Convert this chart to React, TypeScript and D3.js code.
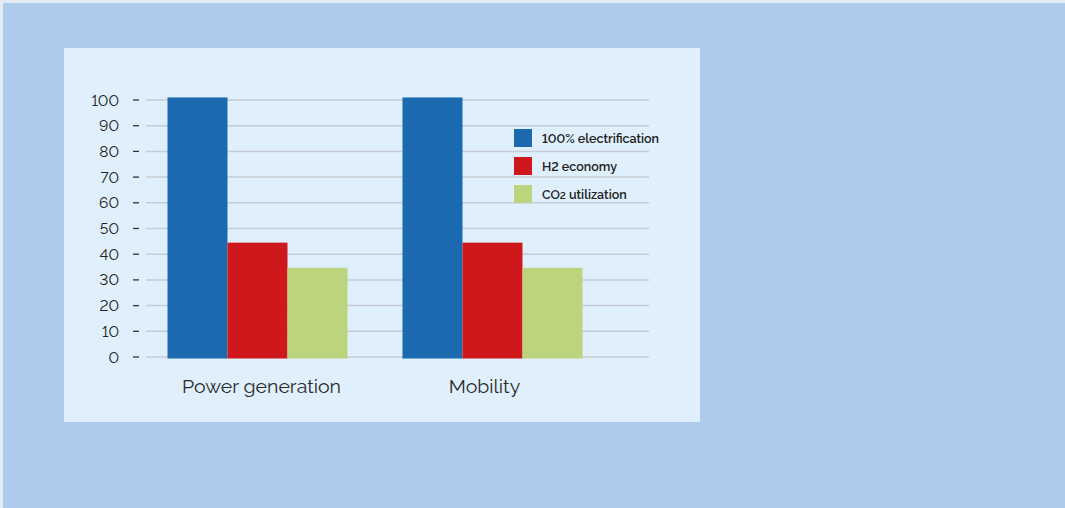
import React from "react";
import * as d3 from "d3";

const categories = ["Power generation", "Mobility"];
const seriesNames = ["100% electrification", "H2 economy", "CO2 utilization"];
const electrification = [101, 101];
const h2Economy = [44.5, 44.5];
const co2Utilization = [34.7, 34.7];
const yTicks = [0, 10, 20, 30, 40, 50, 60, 70, 80, 90, 100];

const colors = ["#1b6aaf", "#cf181c", "#bcd47c"];

const W = 1065;
const H = 508;

export default function App() {
  const series = [electrification, h2Economy, co2Utilization];

  const y = d3.scaleLinear().domain([0, 100]).range([357, 100]);
  const x0 = d3
    .scaleBand<string>()
    .domain(categories)
    .range([140, 610])
    .paddingInner(0.234)
    .paddingOuter(0.117);
  const x1 = d3
    .scaleBand<string>()
    .domain(seriesNames)
    .range([0, x0.bandwidth()]);

  const gridX0 = 146;
  const gridX1 = 649;
  const font = "Raleway, Lato, 'Open Sans', sans-serif";
  const lining = { fontVariantNumeric: "lining-nums" as const };
  const labelShift = [4, -8];

  // legend text: the "2" of CO2 is set smaller, on the baseline
  const legendText = (name: string) => {
    if (name.startsWith("CO2")) {
      return (
        <>
          CO<tspan fontSize={10}>2</tspan>
          {name.slice(3)}
        </>
      );
    }
    return name;
  };

  return (
    <svg
      width={W}
      height={H}
      style={{ position: "absolute", left: 0, top: 0, display: "block" }}
    >
      <rect x={0} y={0} width={W} height={H} fill="#e4ebf4" />
      <rect x={3} y={3} width={W - 3} height={H - 3} fill="#aecbeb" />
      <rect x={64} y={48} width={636} height={374} fill="#dff0fc" />

      {/* gridlines and y-axis */}
      {yTicks.map((t) => (
        <g key={t}>
          <line
            x1={gridX0}
            x2={gridX1}
            y1={y(t)}
            y2={y(t)}
            stroke="#c6ccd2"
            strokeWidth={1.5}
          />
          <line
            x1={133}
            x2={139}
            y1={y(t)}
            y2={y(t)}
            stroke="#333"
            strokeWidth={1.3}
          />
          <text
            x={119}
            y={y(t)}
            dy="0.36em"
            textAnchor="end"
            fontFamily={font}
            fontSize={15.5}
            fill="#222"
            style={lining}
          >
            {t}
          </text>
        </g>
      ))}

      {/* bars */}
      {categories.map((c, ci) => (
        <g key={c} transform={`translate(${x0(c)},0)`}>
          {series.map((vals, si) => (
            <rect
              key={si}
              x={x1(seriesNames[si])}
              y={y(vals[ci])}
              width={x1.bandwidth()}
              height={y(0) - y(vals[ci]) + 1.5}
              fill={colors[si]}
            />
          ))}
          <text
            x={x0.bandwidth() / 2 + labelShift[ci]}
            y={393}
            textAnchor="middle"
            fontFamily={font}
            fontSize={19.5}
            fill="#2a2a2a"
          >
            {c}
          </text>
        </g>
      ))}

      {/* legend */}
      {seriesNames.map((l, i) => (
        <g key={l} transform={`translate(514,${129 + i * 28})`}>
          <rect width={18} height={18} fill={colors[i]} />
          <text
            x={28}
            y={9}
            dy="0.36em"
            fontFamily={font}
            fontSize={12.5}
            fontWeight={600}
            fill="#222"
            style={lining}
          >
            {legendText(l)}
          </text>
        </g>
      ))}
    </svg>
  );
}
